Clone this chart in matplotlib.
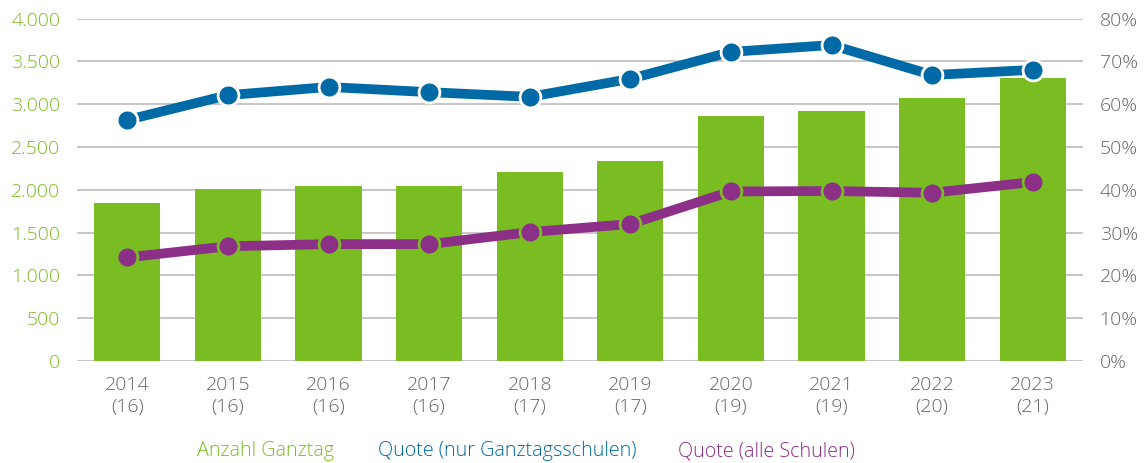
import numpy as np
import matplotlib
matplotlib.use("Agg")
import matplotlib.pyplot as plt
from matplotlib.ticker import FuncFormatter

years = ["2014", "2015", "2016", "2017", "2018", "2019", "2020", "2021", "2022", "2023"]
schools = [16, 16, 16, 16, 17, 17, 19, 19, 20, 21]
anzahl = [1845, 2010, 2045, 2045, 2210, 2335, 2860, 2920, 3075, 3305]
quote_gts = [56.3, 62.1, 64.0, 62.8, 61.7, 65.9, 72.2, 73.8, 66.8, 68.0]
quote_alle = [24.2, 26.8, 27.3, 27.3, 30.1, 32.0, 39.6, 39.7, 39.3, 41.8]

GREEN = "#7abd23"
BLUE = "#006aa7"
PURPLE = "#8b2f87"
GRAY = "#666666"
GRID = "#c8c8c8"

plt.rcParams["font.family"] = ["Open Sans", "DejaVu Sans"]
plt.rcParams["font.weight"] = "light"

fig = plt.figure(figsize=(11.45, 4.63), dpi=100)
ax = fig.add_axes([77 / 1145, 1 - 361 / 463, (1083 - 77) / 1145, (361 - 18.5) / 463])
ax2 = ax.twinx()

xs = np.arange(len(years))
ax.bar(xs, anzahl, width=0.66, color=GREEN, zorder=2)
ax.set_ylim(0, 4000)
ax.set_xlim(-0.5, len(years) - 0.5)
ax.set_yticks(np.arange(0, 4001, 500))
ax.yaxis.set_major_formatter(FuncFormatter(lambda v, p: f"{int(v):,}".replace(",", ".")))
ax.grid(axis="y", color=GRID, lw=1.5, zorder=0)
ax.set_axisbelow(True)
ax.set_xticks(xs)
ax.set_xticklabels([f"{y}\n({s})" for y, s in zip(years, schools)], linespacing=1.3)
ax.tick_params(axis="y", length=0, pad=12, labelsize=14, labelcolor=GREEN)
ax.tick_params(axis="x", length=0, pad=11, labelsize=14, labelcolor=GRAY)
for sp in ax.spines.values():
    sp.set_visible(False)

ax2.plot(xs, quote_gts, color=BLUE, lw=7, marker="o", ms=15,
         mfc=BLUE, mec="white", mew=2, zorder=3)
ax2.plot(xs, quote_alle, color=PURPLE, lw=7, marker="o", ms=15,
         mfc=PURPLE, mec=GREEN, mew=2, zorder=3)
ax2.set_ylim(0, 80)
ax2.set_yticks(np.arange(0, 81, 10))
ax2.yaxis.set_major_formatter(FuncFormatter(lambda v, p: f"{int(v)}%"))
ax2.tick_params(axis="y", length=0, pad=12, labelsize=14, labelcolor=GRAY)
for sp in ax2.spines.values():
    sp.set_visible(False)

# baseline
ax.axhline(0, color=GRID, lw=2, zorder=1)

ly = 1 - 451 / 463
fig.text(197 / 1145, ly, "Anzahl Ganztag", color=GREEN, fontsize=14.2, va="center")
fig.text(378 / 1145, ly, "Quote (nur Ganztagsschulen)", color=BLUE, fontsize=14.2, va="center")
fig.text(678 / 1145, ly, "Quote (alle Schulen)", color=PURPLE, fontsize=14.2, va="center")

fig.savefig("out.png", dpi=100)
